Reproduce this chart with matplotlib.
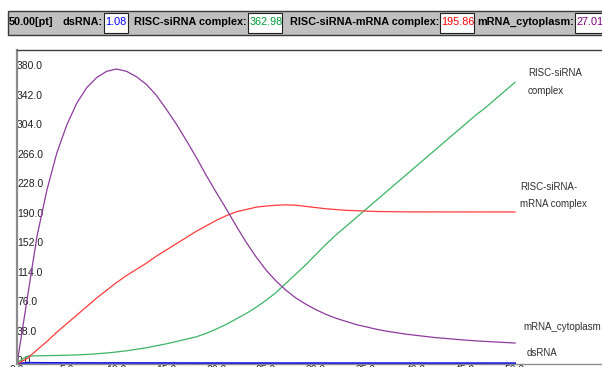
import matplotlib.pyplot as plt
from matplotlib.patches import Rectangle
import numpy as np

plt.rcParams["font.family"] = ["Liberation Sans", "DejaVu Sans"]

# time points [pt]
time = np.arange(0, 51)

ds_rna = [
    0.0, 1.6, 1.5, 1.45, 1.4, 1.38, 1.36, 1.34, 1.32, 1.3,
    1.29, 1.28, 1.27, 1.26, 1.25, 1.24, 1.23, 1.22, 1.21, 1.2,
    1.19, 1.18, 1.17, 1.17, 1.16, 1.16, 1.15, 1.15, 1.14, 1.14,
    1.13, 1.13, 1.12, 1.12, 1.12, 1.11, 1.11, 1.11, 1.1, 1.1,
    1.1, 1.1, 1.09, 1.09, 1.09, 1.09, 1.09, 1.08, 1.08, 1.08,
    1.08,
]

risc_sirna = [
    2.0, 10.0, 10.5, 10.8, 11.0, 11.3, 11.7, 12.3, 13.2, 14.2,
    15.5, 17.0, 19.0, 21.0, 23.5, 26.0, 29.0, 32.0, 35.0, 39.5,
    45.0, 51.0, 58.0, 65.0, 73.0, 82.0, 92.0, 104.0, 116.0, 128.0,
    141.0, 154.0, 166.0, 177.0, 188.0, 199.0, 210.0, 221.0, 232.0, 243.0,
    254.0, 265.0, 276.0, 287.0, 298.0, 309.0, 320.0, 330.0, 341.0, 352.0,
    362.98,
]

risc_sirna_mrna = [
    0.0, 7.0, 18.0, 29.0, 41.0, 52.0, 63.0, 74.0, 85.0, 95.0,
    105.0, 114.0, 122.0, 130.0, 139.0, 147.0, 155.0, 163.0, 171.0, 178.0,
    185.0, 191.0, 196.0, 199.0, 202.0, 203.5, 204.5, 205.0, 204.5, 203.0,
    201.5, 200.0, 199.0, 198.0, 197.5, 197.0, 196.5, 196.3, 196.1, 196.0,
    195.95, 195.93, 195.92, 195.9, 195.9, 195.89, 195.88, 195.87, 195.87, 195.86,
    195.86,
]

mrna_cytoplasm = [
    0.0, 82.0, 164.0, 224.0, 272.0, 308.0, 336.0, 356.0, 369.0, 377.0,
    380.0, 377.0, 370.0, 360.0, 346.0, 328.0, 309.0, 288.0, 266.0, 243.0,
    221.0, 200.0, 178.0, 157.0, 138.0, 121.0, 107.0, 95.0, 85.0, 77.0,
    70.0, 64.0, 59.0, 55.0, 51.0, 48.0, 45.0, 42.5, 40.5, 38.5,
    37.0, 35.5, 34.0, 33.0, 31.8, 30.8, 29.9, 29.1, 28.4, 27.7,
    27.01,
]

series = [
    ("dsRNA", ds_rna, "#1515e8", "#0000ff"),
    ("RISC-siRNA complex", risc_sirna, "#3cb466", "#009933"),
    ("RISC-siRNA-mRNA complex", risc_sirna_mrna, "#ff3b3b", "#ff0000"),
    ("mRNA_cytoplasm", mrna_cytoplasm, "#8e3a9e", "#800080"),
]

# end-of-line labels: (text, x in time units, y in value units)
end_labels = [
    ("RISC-siRNA\n\ncomplex", 51.3, 363.0),
    ("RISC-siRNA-\n\nmRNA complex", 50.5, 217.0),
    ("mRNA_cytoplasm", 50.8, 48.0),
    ("dsRNA", 51.2, 14.0),
]

y_ticks = np.arange(0, 381, 38)
x_ticks = np.arange(0, 51, 5)

W, H = 602, 367
fig = plt.figure(figsize=(W / 100, H / 100), dpi=100)

# main chart area
ax = fig.add_axes([17 / W, 3 / H, (W - 17) / W + 0.05, 314 / H])
for name, values, color, _ in series:
    lw = 1.3 if name == "dsRNA" else 0.9
    ax.plot(time, values, color=color, lw=lw, solid_joinstyle="round")

ax.set_xlim(0, 50 + (W - 17 + 30 - 498) / 9.96)
ax.set_ylim(0, 404.5)

ax.set_yticks(y_ticks)
ax.set_yticklabels([f"{v:.1f}" for v in y_ticks])
ax.set_xticks(x_ticks)
ax.set_xticklabels([f"{v:.1f}" for v in x_ticks])
ax.tick_params(axis="both", length=0, labelsize=7.5, colors="#202020")
ax.tick_params(axis="y", pad=0)
ax.tick_params(axis="x", pad=0.5)
for label in ax.get_yticklabels():
    label.set_ha("left")
    label.set_va("baseline")

ax.spines["right"].set_visible(False)
ax.spines["top"].set_color("#404040")
ax.spines["top"].set_linewidth(1.0)
ax.spines["left"].set_color("#8c8c8c")
ax.spines["left"].set_linewidth(1.6)
ax.spines["bottom"].set_color("#8c8c8c")
ax.spines["bottom"].set_linewidth(1.0)

for text, tx, ty in end_labels:
    ax.text(tx, ty, text, fontsize=7, color="#303030", ha="left", va="center",
            linespacing=0.85, clip_on=False)

# status bar with the values at the last time point
bar = fig.add_axes([0, 1 - 40 / H, 1, 40 / H])
bar.set_xlim(0, W)
bar.set_ylim(40, 0)
bar.axis("off")
bar.add_patch(Rectangle((8, 10.5), W, 24.5, facecolor="#c0c0c0",
                        edgecolor="#3a3a3a", lw=1.0))

bar.text(9, 22, f"{time[-1]:.2f}[pt]", fontsize=7.8, fontweight="bold",
         va="center", ha="left")
label_right = [103, 247, 439, 574]
box_w = [24, 34, 34, 34]
for (name, values, _, text_color), lr, bw in zip(series, label_right, box_w):
    bar.text(lr, 22, f"{name}:", fontsize=7.8, fontweight="bold",
             va="center", ha="right")
    bx = lr + 1
    bar.add_patch(Rectangle((bx, 12.5), bw, 20, facecolor="white",
                            edgecolor="#202020", lw=0.8))
    bar.text(bx + 1.5, 22, f"{values[-1]:.2f}", fontsize=7.8, color=text_color,
             va="center", ha="left")

fig.savefig("out.png", dpi=100)
